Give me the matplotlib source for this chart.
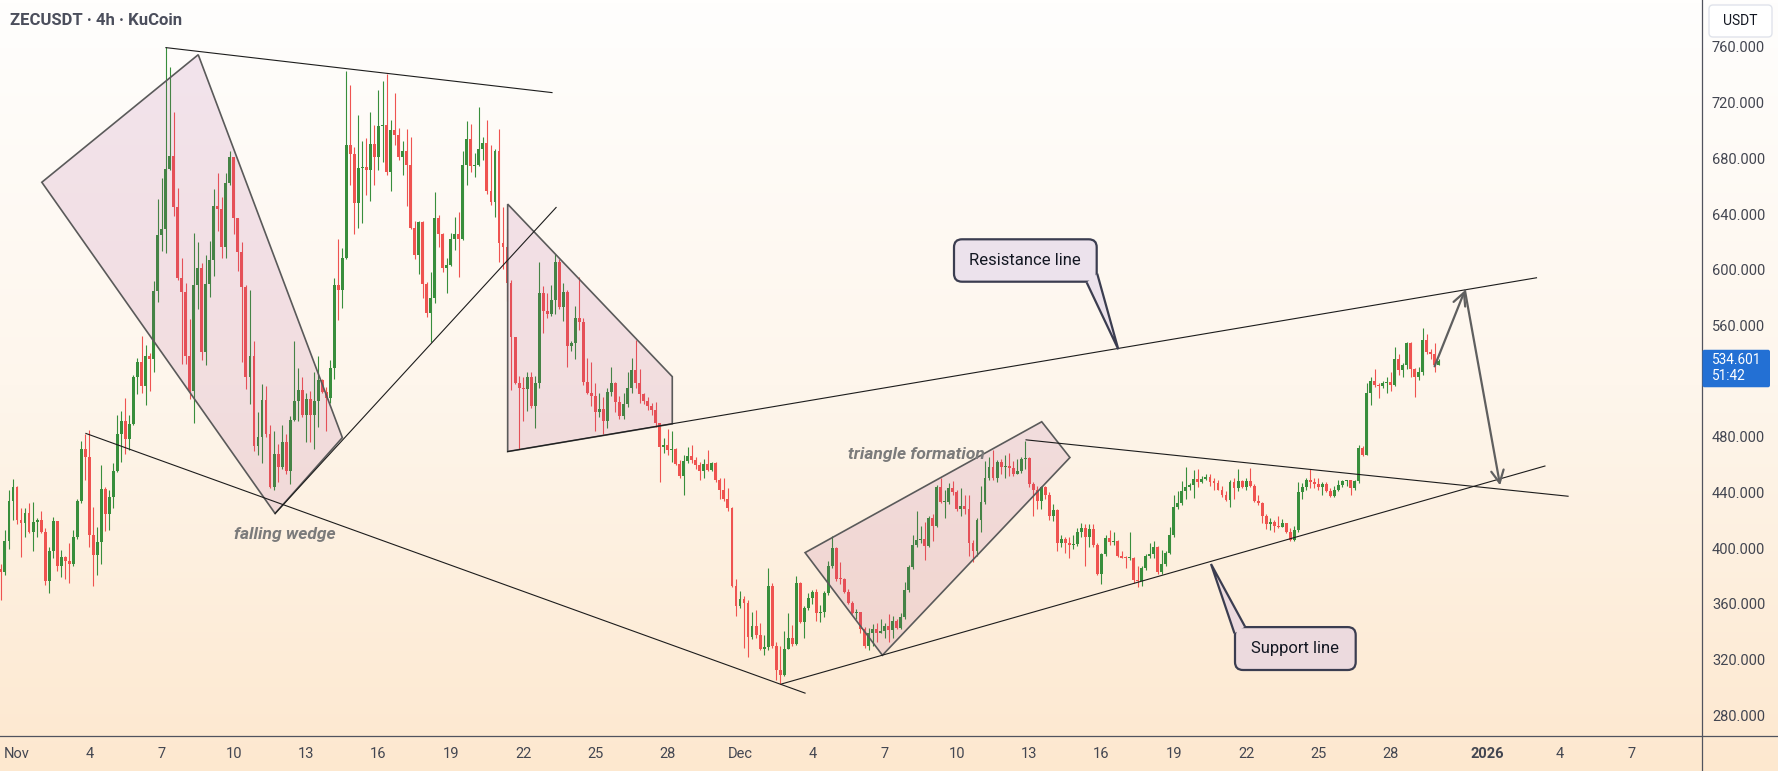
import numpy as np
import pandas as pd
import matplotlib
matplotlib.use("Agg")
import matplotlib.pyplot as plt
from matplotlib.patches import Polygon, FancyBboxPatch
from matplotlib.colors import LinearSegmentedColormap

plt.rcParams["font.family"] = ["Roboto", "DejaVu Sans"]

W, H = 1778, 771
GREEN, RED = "#388e3c", "#ef5350"

# ZECUSDT 4h candles, first one opens Oct 31 08:00 (open = previous close)
FIRST_OPEN = 384.7
closes = [
    382.6, 405.3, 434.0, 444.0, 420.4, 418.3, 425.2, 411.9, 418.9, 420.4,
    411.9, 376.5, 397.7, 419.5, 387.1, 393.8, 391.1, 388.6, 407.7, 434.0,
    471.2, 465.7, 409.8, 395.3, 404.4, 442.4, 424.3, 436.4, 455.7, 482.3,
    491.4, 478.4, 489.3, 523.2, 533.7, 516.5, 537.7, 536.2, 584.5, 625.0,
    629.3, 672.5, 681.6, 645.0, 594.2, 584.2, 538.3, 512.6, 588.8, 600.9,
    540.7, 589.7, 606.9, 645.6, 643.5, 616.0, 662.2, 681.0, 636.8, 612.9,
    587.5, 523.2, 537.7, 473.3, 479.9, 506.5, 482.3, 444.0, 467.8, 458.2,
    476.3, 455.1, 492.0, 505.9, 513.5, 496.0, 507.1, 496.0, 505.9, 520.7,
    512.0, 508.0, 529.2, 588.8, 585.7, 608.7, 689.4, 683.4, 648.0, 672.8,
    673.7, 671.3, 690.3, 681.3, 703.0, 703.6, 670.4, 700.0, 697.0, 681.0,
    684.9, 675.2, 629.9, 610.2, 634.1, 589.7, 569.1, 580.0, 637.4, 625.3,
    600.9, 603.3, 622.0, 625.3, 622.3, 675.2, 694.0, 674.3, 675.2, 687.0,
    690.9, 656.8, 648.6, 684.9, 619.3, 616.3, 590.6, 551.9, 518.6, 515.0,
    514.1, 523.2, 502.0, 518.6, 583.6, 570.0, 568.5, 578.2, 605.7, 573.0,
    584.2, 544.9, 547.3, 565.5, 562.5, 519.5, 511.1, 509.6, 497.5, 499.6,
    491.4, 512.0, 518.6, 505.0, 495.0, 503.5, 514.7, 528.3, 518.6, 510.5,
    505.6, 502.0, 499.0, 489.9, 473.0, 474.2, 470.3, 471.2, 460.6, 451.5,
    462.7, 466.3, 463.6, 459.7, 455.1, 460.6, 456.0, 461.2, 449.1, 442.1,
    435.5, 428.8, 372.9, 358.4, 363.5, 360.5, 336.3, 344.2, 337.3, 327.3,
    328.8, 372.9, 329.7, 312.5, 309.1, 327.6, 335.7, 331.2, 375.0, 347.2,
    356.9, 364.5, 368.4, 353.3, 354.5, 368.1, 387.1, 400.1, 378.1, 377.5,
    368.4, 360.5, 353.3, 353.9, 341.8, 329.7, 339.4, 341.8, 338.8, 340.3,
    344.2, 341.2, 347.8, 342.4, 350.8, 369.6, 386.5, 402.2, 405.9, 406.5,
    401.6, 421.9, 415.8, 444.0, 433.1, 433.4, 443.0, 440.0, 427.9, 430.0,
    427.9, 403.8, 397.7, 420.4, 433.1, 450.6, 458.2, 450.6, 461.8, 458.2,
    459.0, 457.3, 453.6, 455.1, 464.2, 464.8, 446.1, 442.1, 434.0, 444.0,
    437.9, 423.4, 427.3, 403.8, 406.8, 403.8, 402.2, 403.1, 411.3, 414.3,
    408.3, 413.7, 402.2, 381.7, 395.6, 407.4, 404.4, 405.3, 394.7, 393.2,
    392.6, 393.2, 377.2, 376.5, 385.6, 394.7, 395.5, 400.7, 382.6, 388.6,
    396.8, 409.8, 429.4, 432.5, 440.9, 444.0, 445.5, 450.0, 447.6, 450.0,
    451.2, 447.6, 447.0, 442.1, 437.9, 434.6, 447.6, 443.0, 448.2, 444.0,
    448.2, 444.6, 434.0, 432.5, 423.4, 417.4, 418.6, 415.8, 414.9, 418.0,
    411.3, 405.9, 412.8, 440.0, 444.0, 449.1, 447.6, 446.1, 444.0, 446.1,
    440.9, 437.6, 442.1, 445.2, 448.2, 448.8, 443.0, 448.2, 471.8, 467.2,
    511.7, 520.1, 517.1, 516.5, 518.6, 519.5, 517.1, 535.9, 527.7, 531.6,
    547.3, 528.6, 523.2, 526.2, 549.8, 540.7, 539.8, 531.6, 534.601,
]
highs = [
    388.6, 412.8, 441.5, 449.7, 445.0, 428.5, 428.5, 432.5, 433.1, 421.9,
    427.0, 414.3, 400.7, 422.5, 419.8, 398.6, 394.7, 403.8, 413.4, 435.5,
    477.2, 481.7, 484.8, 429.4, 415.2, 459.7, 444.0, 441.5, 461.2, 496.0,
    498.4, 507.7, 496.0, 524.1, 536.8, 552.5, 545.8, 540.4, 591.8, 650.7,
    665.8, 759.6, 745.7, 713.6, 658.6, 608.4, 590.3, 564.6, 626.0, 619.9,
    604.8, 610.2, 620.5, 658.0, 669.8, 652.5, 669.5, 685.5, 681.0, 637.1,
    619.9, 589.0, 585.1, 548.9, 497.5, 517.7, 516.5, 488.4, 483.9, 474.8,
    488.4, 482.3, 495.0, 548.9, 529.2, 523.2, 511.1, 512.6, 526.2, 537.7,
    521.6, 515.6, 535.2, 594.2, 622.0, 615.4, 742.9, 732.4, 687.9, 711.2,
    692.4, 694.9, 713.6, 703.9, 729.3, 735.4, 740.8, 707.6, 727.2, 701.5,
    692.4, 700.9, 695.5, 635.0, 635.0, 635.0, 591.2, 598.1, 655.6, 639.5,
    626.0, 608.4, 626.5, 638.0, 641.7, 684.9, 706.7, 704.5, 684.0, 717.2,
    695.5, 707.6, 689.4, 687.0, 700.9, 644.7, 629.0, 592.7, 551.0, 523.8,
    522.6, 526.2, 526.2, 523.8, 605.7, 588.2, 583.6, 588.8, 611.4, 607.8,
    590.3, 585.1, 548.9, 573.6, 595.1, 565.5, 536.8, 533.7, 518.6, 511.1,
    508.7, 514.7, 530.1, 519.5, 509.3, 511.1, 526.2, 536.8, 549.8, 528.6,
    511.7, 508.7, 504.4, 505.0, 489.9, 479.3, 485.4, 483.9, 471.8, 463.3,
    467.2, 472.4, 474.2, 465.7, 461.8, 464.2, 470.3, 462.1, 462.1, 450.6,
    450.6, 443.0, 429.4, 378.1, 369.0, 366.0, 362.9, 353.9, 355.4, 346.3,
    337.3, 385.6, 375.0, 332.7, 329.7, 340.3, 353.3, 344.8, 380.2, 375.6,
    358.4, 367.5, 369.6, 370.5, 359.3, 369.0, 391.1, 408.9, 400.7, 390.1,
    378.7, 370.5, 362.3, 356.3, 354.5, 343.3, 342.4, 345.4, 346.3, 349.3,
    346.3, 352.4, 351.4, 349.3, 353.3, 375.6, 387.7, 409.8, 426.4, 415.8,
    418.9, 422.8, 424.9, 445.2, 450.6, 442.1, 447.0, 448.2, 441.5, 443.0,
    438.5, 438.5, 405.9, 421.9, 444.6, 462.7, 465.7, 470.3, 463.3, 464.2,
    467.2, 468.7, 462.7, 464.2, 465.7, 477.2, 465.7, 447.6, 444.6, 444.6,
    444.6, 440.0, 431.6, 427.9, 409.8, 408.3, 408.3, 409.8, 414.3, 418.0,
    417.4, 417.4, 417.4, 403.8, 396.8, 409.8, 412.8, 411.9, 406.2, 397.7,
    394.7, 411.3, 393.8, 387.1, 387.1, 395.6, 403.8, 405.3, 401.6, 398.6,
    397.7, 414.9, 438.5, 440.9, 448.2, 458.2, 447.0, 456.0, 456.7, 452.1,
    453.6, 453.6, 450.6, 449.1, 444.6, 440.9, 449.1, 450.6, 456.7, 449.1,
    450.6, 457.3, 446.1, 438.5, 433.1, 424.9, 421.9, 420.4, 422.8, 421.0,
    418.0, 414.3, 415.8, 447.6, 447.0, 450.6, 456.7, 450.6, 450.6, 447.6,
    447.6, 443.0, 444.6, 449.1, 449.1, 449.1, 447.6, 449.1, 474.2, 473.3,
    518.6, 523.2, 528.6, 518.6, 520.1, 522.6, 526.2, 544.3, 539.8, 532.8,
    547.9, 547.9, 529.2, 529.8, 557.9, 554.0, 542.8, 547.3, 535.9,
]
lows = [
    363.0, 381.0, 399.2, 420.4, 417.4, 394.0, 408.3, 410.7, 398.3, 407.7,
    410.7, 373.5, 368.0, 392.6, 383.5, 379.6, 377.5, 375.0, 387.1, 406.8,
    432.5, 449.1, 400.7, 372.9, 381.0, 388.6, 412.2, 413.4, 428.5, 454.5,
    462.1, 467.8, 470.3, 488.4, 510.5, 511.1, 502.9, 512.6, 526.2, 577.0,
    613.2, 612.3, 671.9, 638.6, 592.7, 532.2, 532.2, 507.4, 489.9, 571.5,
    535.2, 531.6, 580.6, 595.7, 627.5, 608.4, 608.7, 660.7, 625.3, 599.3,
    533.7, 514.1, 503.5, 470.0, 467.2, 461.2, 480.0, 443.0, 441.5, 447.6,
    456.7, 453.6, 446.1, 491.4, 491.4, 494.4, 476.3, 476.3, 471.2, 486.9,
    511.1, 483.9, 504.4, 521.6, 564.0, 572.4, 607.8, 660.7, 625.9, 629.6,
    633.5, 653.8, 649.5, 660.7, 671.3, 677.3, 667.7, 656.2, 689.4, 678.8,
    667.7, 645.6, 629.0, 607.8, 597.2, 580.0, 566.1, 548.0, 576.0, 616.3,
    598.1, 583.6, 602.7, 613.8, 594.8, 621.4, 660.7, 670.4, 666.8, 674.3,
    678.8, 654.7, 646.2, 638.0, 605.4, 600.2, 577.6, 513.5, 517.7, 471.2,
    491.4, 498.4, 500.5, 486.3, 515.0, 554.3, 565.5, 567.0, 568.5, 571.5,
    563.1, 529.8, 541.3, 536.2, 556.4, 517.1, 510.5, 502.0, 484.5, 494.4,
    482.3, 486.3, 509.6, 497.5, 492.9, 492.9, 501.4, 511.7, 514.7, 504.4,
    503.5, 499.0, 496.0, 486.9, 447.6, 468.1, 467.2, 461.8, 459.7, 450.6,
    438.5, 461.2, 461.2, 456.7, 449.1, 450.6, 455.1, 455.1, 447.6, 435.5,
    434.0, 427.0, 372.0, 351.4, 356.9, 328.2, 322.1, 335.1, 335.7, 326.7,
    323.0, 326.7, 328.2, 305.5, 302.5, 308.5, 327.3, 329.7, 330.6, 346.3,
    335.7, 355.4, 359.9, 347.8, 347.2, 350.8, 366.6, 385.6, 376.5, 374.4,
    367.5, 359.9, 352.4, 349.3, 339.4, 328.2, 326.7, 329.7, 332.7, 338.8,
    335.7, 332.7, 335.7, 341.8, 341.8, 349.3, 368.4, 385.3, 400.7, 403.8,
    391.7, 400.7, 405.3, 414.9, 432.5, 421.9, 431.9, 438.5, 426.4, 422.8,
    424.9, 394.7, 390.1, 394.7, 411.9, 431.9, 449.1, 449.1, 447.6, 453.6,
    450.6, 452.1, 452.1, 453.6, 454.2, 456.7, 444.0, 423.4, 427.9, 427.9,
    435.5, 420.4, 419.8, 398.3, 400.7, 396.2, 392.6, 399.2, 401.6, 408.3,
    387.1, 400.7, 400.7, 380.5, 374.4, 394.7, 402.2, 402.2, 393.8, 392.6,
    385.6, 391.7, 375.0, 372.0, 372.6, 384.1, 392.6, 393.2, 381.7, 381.7,
    387.1, 395.6, 407.7, 427.9, 431.0, 435.5, 441.5, 436.1, 444.0, 447.0,
    449.1, 444.6, 442.1, 441.5, 437.0, 434.0, 429.4, 435.5, 440.9, 443.0,
    442.1, 444.0, 433.1, 431.0, 418.0, 413.7, 412.8, 411.3, 414.3, 414.9,
    410.7, 405.3, 405.3, 411.9, 435.5, 442.1, 443.0, 443.0, 442.1, 438.5,
    440.0, 436.4, 437.0, 440.9, 444.0, 444.6, 438.5, 442.1, 447.0, 466.3,
    468.7, 502.6, 515.6, 508.0, 514.7, 511.7, 512.6, 516.5, 524.7, 523.2,
    528.6, 523.2, 508.7, 520.7, 524.7, 539.8, 535.9, 526.8, 531.6,
]

# 520 is hidden behind the last-price tag on the scale
price_ticks = [280, 320, 360, 400, 440, 480, 560, 600, 640, 680, 720, 760]
tick_dates = ["2025-11-01", "2025-11-04", "2025-11-07", "2025-11-10", "2025-11-13",
              "2025-11-16", "2025-11-19", "2025-11-22", "2025-11-25", "2025-11-28",
              "2025-12-01", "2025-12-04", "2025-12-07", "2025-12-10", "2025-12-13",
              "2025-12-16", "2025-12-19", "2025-12-22", "2025-12-25", "2025-12-28",
              "2026-01-01", "2026-01-04", "2026-01-07"]
tick_labels = ["Nov", "4", "7", "10", "13", "16", "19", "22", "25", "28",
               "Dec", "4", "7", "10", "13", "16", "19", "22", "25", "28",
               "2026", "4", "7"]

# drawings: (days since Nov 1, price)
top_line = [(6.18, 759.5), (22.20, 727.2)]
wedge_box = [(1.03, 662.8), (7.52, 754.4), (13.50, 479.4), (10.71, 424.9)]
wedge_break = [(10.71, 424.9), (22.37, 644.7)]
lower_line = [(2.86, 482.4), (32.70, 295.9)]
desc_triangle = [(20.36, 647.1), (27.19, 523.2), (27.19, 489.3), (20.36, 469.4)]
resistance = [(20.36, 469.4), (63.05, 594.2)]
channel_box = [(32.70, 396.8), (42.52, 490.8), (43.69, 465.1), (35.91, 323.1)]
support = [(31.73, 302.5), (63.40, 459.0)]
apex_line = [(41.87, 477.8), (64.36, 437.3)]
arrow_up = [(58.82, 530.6), (60.08, 585.2)]
arrow_down = [(60.08, 585.2), (61.54, 445.1)]

day0 = pd.Timestamp("2025-11-01")
to_days = lambda t: np.asarray((t - day0) / pd.Timedelta(days=1), dtype=float)

closes = np.array(closes)
times = pd.date_range("2025-10-31 08:00", periods=len(closes), freq="4h")
x = to_days(times)
opens = np.r_[FIRST_OPEN, closes[:-1]]
highs = np.maximum(np.array(highs), np.maximum(opens, closes))
lows = np.minimum(np.array(lows), np.minimum(opens, closes))

fig = plt.figure(figsize=(W / 100, H / 100), dpi=100)

# background gradient
bg = fig.add_axes([0, 0, 1, 1], zorder=-10)
cmap = LinearSegmentedColormap.from_list("bg", ["#fffefd", "#fef6ec", "#fde8cf"])
bg.imshow(np.linspace(0, 1, 256).reshape(-1, 1), cmap=cmap, aspect="auto",
          extent=[0, 1, 0, 1])
bg.axis("off")

ax = fig.add_axes([0, 35 / H, 1702 / W, 736 / H], zorder=1)
ax.patch.set_alpha(0)
ax.set_xlim(-0.705, 69.917)
ax.set_ylim(265.1, 793.7)
for s in ax.spines.values():
    s.set_visible(False)

up = closes >= opens
cols = np.where(up, GREEN, RED)
ax.vlines(x, lows, highs, colors=cols, lw=0.8, zorder=2)
body_lo = np.minimum(opens, closes)
body_h = np.maximum(np.abs(closes - opens), 0.9)
ax.bar(x, body_h, bottom=body_lo, width=0.12, color=cols, lw=0, zorder=2)

# drawings
for pts in (top_line, wedge_break, lower_line, resistance, support, apex_line):
    xs, ys = zip(*pts)
    ax.plot(xs, ys, color="#1c1c1c", lw=0.8, zorder=4)
for pts in (wedge_box, desc_triangle, channel_box):
    ax.add_patch(Polygon(pts, closed=True, fc=(0.64, 0.24, 0.56, 0.13),
                         ec="#5a5a5a", lw=1.2, zorder=3))
for a, b in (arrow_up, arrow_down):
    ax.annotate("", xy=b, xytext=a, zorder=5,
                arrowprops=dict(arrowstyle="->,head_length=0.9,head_width=0.45",
                                color="#5f5f5f", lw=1.6, shrinkA=0, shrinkB=0))

lbl = dict(style="italic", weight="bold", color="#7b7b7b", size=12.5,
           ha="center", va="center", zorder=5)
ax.text(11.12, 409.8, "falling wedge", **lbl)
ax.text(37.34, 467.2, "triangle formation", **lbl)

# axes ticks
ax.yaxis.tick_right()
ax.set_yticks(price_ticks)
ax.set_yticklabels([f"{v:.3f}" for v in price_ticks])
ax.tick_params(axis="y", length=0, pad=7.2, labelsize=10.5, labelcolor="#434651")
ax.set_xticks(to_days(pd.to_datetime(tick_dates)))
ax.set_xticklabels(tick_labels)
ax.tick_params(axis="x", length=0, pad=8, labelsize=10.5, labelcolor="#434651")
for t in ax.get_xticklabels():
    if t.get_text() == "2026":
        t.set_fontweight("bold")

# pixel overlay for frame, callouts and labels
ov = fig.add_axes([0, 0, 1, 1], zorder=6)
ov.set_xlim(0, W)
ov.set_ylim(H, 0)
ov.axis("off")
ov.plot([1702, 1702], [0, H], color="#50535e", lw=0.9)
ov.plot([0, W], [736, 736], color="#50535e", lw=0.9)


def callout(x0, y0, x1, y1, tail, text, fc):
    ov.add_patch(FancyBboxPatch((x0, y0), x1 - x0, y1 - y0,
                                boxstyle="round,pad=0,rounding_size=8",
                                fc=fc, ec="#3b3d50", lw=1.6, zorder=7))
    ov.add_patch(Polygon(tail, closed=False, fc=fc, ec="#3b3d50", lw=1.6,
                         zorder=8))
    ov.text((x0 + x1) / 2, (y0 + y1) / 2, text, ha="center", va="center",
            size=12, color="#131722", zorder=9)


callout(954, 239.3, 1096.7, 281.7,
        [(1086.7, 282.5), (1118.3, 349.3), (1097.2, 273.6)],
        "Resistance line", "#ece2ec")
callout(1235, 627.1, 1355.7, 670,
        [(1234.5, 633.4), (1211, 564.0), (1245, 626.6)],
        "Support line", "#ecdade")

# last price tag on the price scale
last_y = H - ax.transData.transform((0, closes[-1]))[1]
ov.add_patch(FancyBboxPatch((1702.5, last_y - 11), 67.5, 37.5,
                            boxstyle="round,pad=0,rounding_size=2",
                            fc="#2370d4", ec="none", zorder=7))
ov.text(1712, last_y - 1, f"{closes[-1]:.3f}", color="white", size=9.8,
        va="center", ha="left", zorder=8)
ov.text(1712, last_y + 15.5, "51:42", color="white", size=9.8,
        va="center", ha="left", zorder=8)

ov.add_patch(FancyBboxPatch((1709, 5), 63, 32, boxstyle="round,pad=0,rounding_size=4",
                            fc="white", ec="#e0e3eb", lw=1, zorder=7))
ov.text(1740.5, 21, "USDT", ha="center", va="center", size=10,
        color="#131722", zorder=8)

ov.text(10, 20.7, "ZECUSDT · 4h · KuCoin", ha="left", va="center", size=12,
        weight="bold", color="#4b4e5c", zorder=8)

fig.savefig("out.png", dpi=100)
